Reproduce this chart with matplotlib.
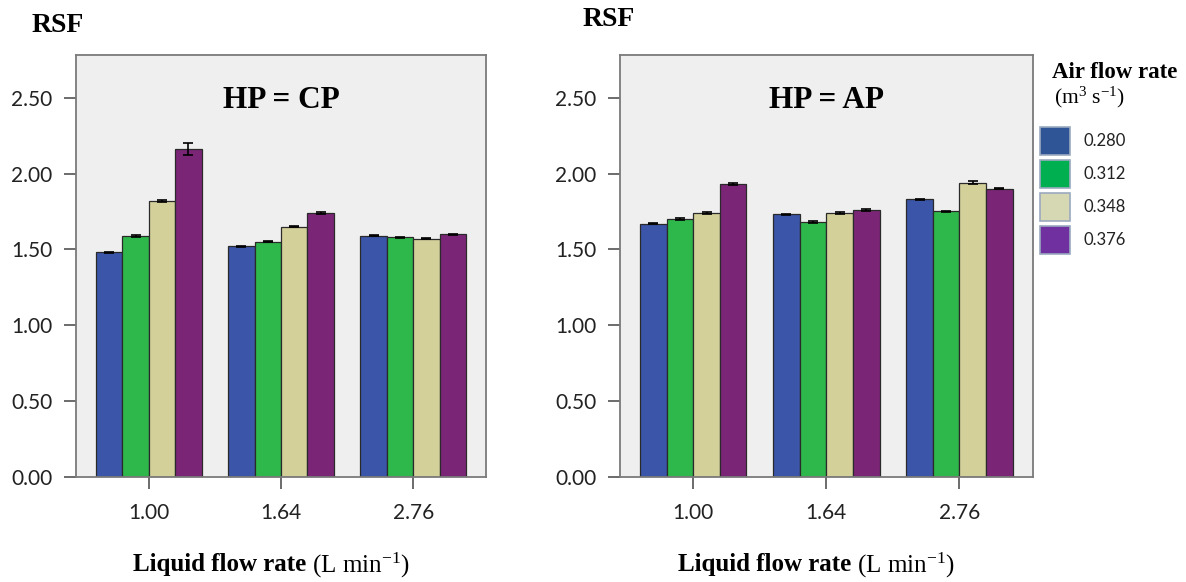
import numpy as np
import matplotlib
matplotlib.use("Agg")
import matplotlib.pyplot as plt
from matplotlib.patches import Rectangle

# liquid flow rate groups (x axis) and air flow rate series
flow_labels = ['1.00', '1.64', '2.76']
air_labels = ['0.280', '0.312', '0.348', '0.376']

# HP = CP panel, one list per air flow rate
cp_280 = [1.48, 1.52, 1.59]
cp_312 = [1.59, 1.55, 1.58]
cp_348 = [1.82, 1.65, 1.57]
cp_376 = [2.16, 1.74, 1.60]
cp_err_280 = [0.004, 0.004, 0.004]
cp_err_312 = [0.006, 0.004, 0.004]
cp_err_348 = [0.005, 0.006, 0.004]
cp_err_376 = [0.040, 0.004, 0.004]

# HP = AP panel
ap_280 = [1.67, 1.73, 1.83]
ap_312 = [1.70, 1.68, 1.75]
ap_348 = [1.74, 1.74, 1.94]
ap_376 = [1.93, 1.76, 1.90]
ap_err_280 = [0.004, 0.004, 0.004]
ap_err_312 = [0.004, 0.004, 0.004]
ap_err_348 = [0.006, 0.004, 0.010]
ap_err_376 = [0.008, 0.004, 0.004]

bar_colors = ['#3B55A8', '#2EB84B', '#D3D09A', '#7B2577']
legend_colors = ['#2F5597', '#00B050', '#D6D8B4', '#7030A0']

SERIF = 'Liberation Serif'
SANS = 'Lato'

plt.rcParams['mathtext.fontset'] = 'custom'
plt.rcParams['mathtext.rm'] = SERIF
plt.rcParams['mathtext.it'] = SERIF + ':italic'
plt.rcParams['mathtext.bf'] = SERIF + ':bold'

W, H = 1186, 582


def draw_panel(ax, means, errs, title):
    x = np.arange(len(flow_labels))
    width = 0.2
    for j, (m, e) in enumerate(zip(means, errs)):
        ax.bar(x + (j - 1.5) * width, m, width, yerr=e,
               color=bar_colors[j], edgecolor='#2a2a2a', linewidth=0.9,
               error_kw=dict(ecolor='black', elinewidth=1.2, capsize=3.5, capthick=1.2),
               zorder=2)
    ax.set_xlim(-0.55, 2.55)
    ax.set_ylim(0, 2.782)
    yt = [0, 0.5, 1.0, 1.5, 2.0, 2.5]
    ax.set_yticks(yt, ['%.2f' % v for v in yt])
    ax.set_xticks(x, flow_labels)
    ax.set_facecolor('#EFEFEF')
    for s in ax.spines.values():
        s.set_color('#7a7a7a')
        s.set_linewidth(1.3)
    ax.tick_params(axis='both', direction='out', length=8.6, width=1.1,
                   color='#444444', labelsize=15, labelcolor='#222222')
    ax.tick_params(axis='y', pad=8.5)
    ax.tick_params(axis='x', pad=10)
    for lab in ax.get_xticklabels() + ax.get_yticklabels():
        lab.set_fontfamily(SANS)
    ax.text(0.5, 0.893, title, transform=ax.transAxes, ha='center', va='center',
            fontfamily=SERIF, fontweight='bold', fontsize=22.5)


fig = plt.figure(figsize=(W / 100, H / 100), dpi=100)
ax_cp = fig.add_axes([76 / W, 1 - 476.7 / H, 410 / W, 421.7 / H])
ax_ap = fig.add_axes([620 / W, 1 - 476.7 / H, 412.7 / W, 421.7 / H])

draw_panel(ax_cp, [cp_280, cp_312, cp_348, cp_376],
           [cp_err_280, cp_err_312, cp_err_348, cp_err_376], 'HP = CP')
draw_panel(ax_ap, [ap_280, ap_312, ap_348, ap_376],
           [ap_err_280, ap_err_312, ap_err_348, ap_err_376], 'HP = AP')

# y axis titles
fig.text(32 / W, 1 - 26 / H, 'RSF', ha='left', va='center',
         fontfamily=SERIF, fontweight='bold', fontsize=20)
fig.text(583 / W, 1 - 19 / H, 'RSF', ha='left', va='center',
         fontfamily=SERIF, fontweight='bold', fontsize=20)

# x axis titles: bold part + regular unit part, centred together
fig.canvas.draw()
renderer = fig.canvas.get_renderer()
for cx in (271, 816):
    t1 = fig.text(0, 1 - 565 / H, 'Liquid flow rate', ha='left', va='center',
                  fontfamily=SERIF, fontweight='bold', fontsize=18)
    t2 = fig.text(0, 1 - 565 / H, r' (L min$^{-1}$)', ha='left', va='center',
                  fontfamily=SERIF, fontsize=18)
    w1 = t1.get_window_extent(renderer).width
    w2 = t2.get_window_extent(renderer).width
    x0 = cx - (w1 + w2) / 2
    t1.set_x(x0 / W)
    t2.set_x((x0 + w1) / W)

# legend drawn by hand to the right of the second panel
fig.text(1052 / W, 1 - 72 / H, 'Air flow rate', ha='left', va='center',
         fontfamily=SERIF, fontweight='bold', fontsize=16.5)
fig.text(1054 / W, 1 - 97 / H, r'(m$^{3}$ s$^{-1}$)', ha='left', va='center',
         fontfamily=SERIF, fontsize=15.5)
sw_top = 126.7
sw_step = 33.2
for j, lab in enumerate(air_labels):
    top = sw_top + j * sw_step
    fig.add_artist(Rectangle((1040 / W, 1 - (top + 28) / H), 30 / W, 28 / H,
                             transform=fig.transFigure, facecolor=legend_colors[j],
                             edgecolor='#9AAAC0', linewidth=1.2))
    fig.text(1083 / W, 1 - (top + 14) / H, lab, ha='left', va='center',
             fontfamily=SANS, fontsize=12, color='#222222')

fig.savefig('out.png', dpi=100)
